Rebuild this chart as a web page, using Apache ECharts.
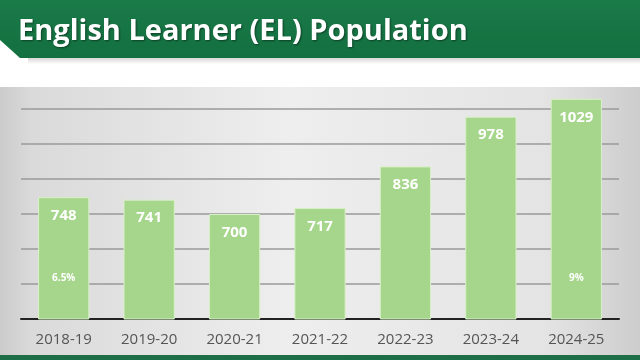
<!DOCTYPE html>
<html><head><meta charset="utf-8">
<script src="https://cdn.jsdelivr.net/npm/echarts@6/dist/echarts.min.js"></script>
<style>html,body{margin:0;padding:0;background:#fff}#c{width:640px;height:360px}</style>
</head><body><div id="c"></div>
<script>
var titleText = 'English Learner (EL) Population';
var categories = ['2018-19','2019-20','2020-21','2021-22','2022-23','2023-24','2024-25'];
var values = [748, 741, 700, 717, 836, 978, 1029];
var pctLabels = ['6.5%', '', '', '', '', '', '9%'];
var yTicks = [400, 500, 600, 700, 800, 900, 1000, 1100];

var chart = echarts.init(document.getElementById('c'));
chart.setOption({
  animation: false,
  graphic: [
    { type: 'rect', z: -10, shape: {x: 0, y: 87, width: 640, height: 270},
      style: { fill: new echarts.graphic.LinearGradient(0, 0, 1, 0, [
        {offset: 0, color: '#cbcbcb'}, {offset: 0.05, color: '#dadada'},
        {offset: 0.45, color: '#eeeeee'}, {offset: 0.85, color: '#e4e4e4'}, {offset: 1, color: '#cdcdcd'}]) } },
    { type: 'rect', z: -10, shape: {x: 0, y: 355, width: 640, height: 5}, style: {fill: '#1e6e48'} },
    { type: 'rect', z: 5, shape: {x: 0, y: 56, width: 640, height: 31}, style: {fill: '#ffffff'} },
    { type: 'rect', z: 6, shape: {x: 28, y: 57, width: 612, height: 7},
      style: { fill: new echarts.graphic.LinearGradient(0, 0, 0, 1, [{offset: 0, color: '#cfcfcf'}, {offset: 1, color: '#ffffff'}]) } },
    { type: 'polygon', z: 7, shape: {points: [[0,0],[640,0],[640,58],[20,58],[0,40]]},
      style: { fill: new echarts.graphic.LinearGradient(0, 0, 0, 1, [{offset: 0, color: '#1a7a48'}, {offset: 1, color: '#137040'}]) } },
    { type: 'text', z: 8, left: 18, top: 17,
      style: { text: titleText, fill: '#ffffff', font: 'bold 29px "Open Sans", "Liberation Sans", sans-serif',
        textShadowColor: 'rgba(0,0,0,0.45)', textShadowBlur: 2, textShadowOffsetX: 1, textShadowOffsetY: 1 } }
  ],
  grid: { left: 21, right: 21, top: 74, bottom: 41, containLabel: false },
  xAxis: {
    type: 'category', data: categories,
    axisLine: { show: true, lineStyle: { color: '#222222', width: 2 } },
    axisTick: { show: false },
    axisLabel: { color: '#555555', fontSize: 15, margin: 13, fontFamily: '"Open Sans", sans-serif' }
  },
  yAxis: {
    type: 'value', min: yTicks[0], max: yTicks[yTicks.length - 1], interval: 100,
    axisLine: { show: false }, axisTick: { show: false }, axisLabel: { show: false },
    splitLine: { show: true, lineStyle: { color: '#9a9a9a', width: 1.5 } }
  },
  series: [
    { type: 'bar', data: values, barCategoryGap: '40%', z: 2,
      itemStyle: { color: '#a6d68b', borderColor: '#d8f0c8', borderWidth: 1 },
      label: { show: true, position: 'insideTop', distance: 11, color: '#ffffff', fontWeight: 'bold', fontSize: 15,
        fontFamily: '"Open Sans", sans-serif' } },
    { type: 'bar', data: values, barGap: '-100%', barCategoryGap: '40%', z: 3,
      itemStyle: { color: 'rgba(0,0,0,0)' },
      label: { show: true, position: 'insideBottom', distance: 36, color: '#ffffff', fontWeight: 'bold', fontSize: 10,
        fontFamily: '"Open Sans", sans-serif',
        formatter: function (p) { return pctLabels[p.dataIndex]; } } }
  ]
});
</script></body></html>
